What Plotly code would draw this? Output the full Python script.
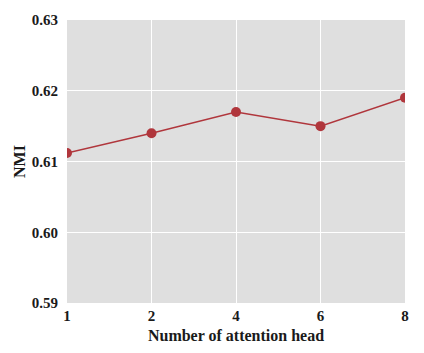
import plotly.graph_objects as go

heads = ["1", "2", "4", "6", "8"]
nmi = [0.6112, 0.6140, 0.6170, 0.6150, 0.6190]
y_ticks = [0.59, 0.60, 0.61, 0.62, 0.63]

color = "#b0363c"
font = dict(family="Liberation Serif, Times New Roman, serif", size=15, color="#1a1a1a")

fig = go.Figure(go.Scatter(
    x=heads, y=nmi, mode="lines+markers",
    line=dict(color=color, width=1.5),
    marker=dict(color=color, size=10),
    cliponaxis=True,
))

fig.update_layout(
    width=424, height=353,
    margin=dict(l=67, r=19, t=18, b=48),
    paper_bgcolor="white", plot_bgcolor="#dfdfdf",
    showlegend=False,
    font=font,
)
fig.update_xaxes(
    type="category", range=[0, 4],
    showgrid=True, gridcolor="white", gridwidth=1.2,
    zeroline=False, showline=False, ticks="",
    tickfont=dict(family=font["family"], size=15),
    ticklabelstandoff=2,
    title=dict(text="<b>Number of attention head</b>", font=dict(family=font["family"], size=16), standoff=6),
    tickprefix="<b>", ticksuffix="</b>",
)
fig.update_yaxes(
    range=[0.59, 0.63], tickvals=y_ticks,
    ticktext=[f"<b>{v:.2f}</b>" for v in y_ticks],
    showgrid=True, gridcolor="white", gridwidth=1.2,
    zeroline=False, showline=False, ticks="",
    tickfont=dict(family=font["family"], size=15),
    ticklabelstandoff=8,
    title=dict(text="<b>NMI</b>", font=dict(family=font["family"], size=16), standoff=2),
)

fig.write_html("out.html")
